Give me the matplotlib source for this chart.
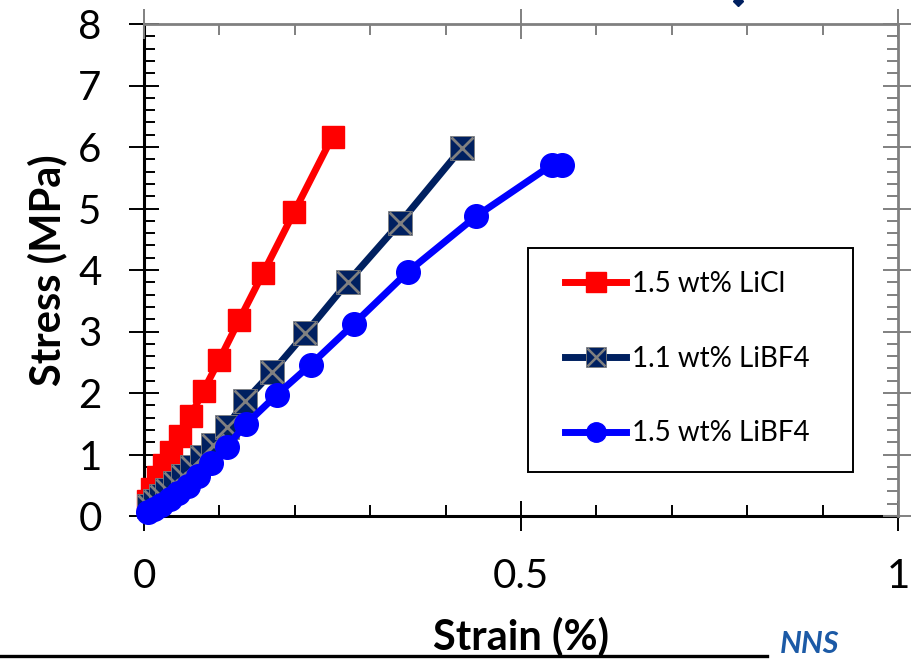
import matplotlib
matplotlib.use('Agg')
import matplotlib.pyplot as plt
from matplotlib.lines import Line2D
from matplotlib.patches import Rectangle
from matplotlib.legend_handler import HandlerTuple
from matplotlib.ticker import MultipleLocator

plt.rcParams['font.family'] = ['Lato', 'DejaVu Sans']

# stress-strain data
strain_licl = [0.005, 0.011, 0.018, 0.026, 0.036, 0.048, 0.062, 0.079, 0.100, 0.126, 0.158, 0.199, 0.250]
stress_licl = [0.25, 0.44, 0.63, 0.83, 1.04, 1.30, 1.63, 2.04, 2.54, 3.18, 3.95, 4.94, 6.17]

strain_libf4_11 = [0.006, 0.014, 0.022, 0.031, 0.041, 0.052, 0.064, 0.077, 0.092, 0.110, 0.134, 0.170, 0.214, 0.270, 0.339, 0.422]
stress_libf4_11 = [0.16, 0.25, 0.33, 0.42, 0.53, 0.65, 0.79, 0.96, 1.16, 1.45, 1.87, 2.34, 2.97, 3.80, 4.76, 5.99]

strain_libf4_15 = [0.005, 0.013, 0.023, 0.034, 0.045, 0.058, 0.072, 0.089, 0.110, 0.135, 0.176, 0.221, 0.278, 0.350, 0.440, 0.541, 0.554]
stress_libf4_15 = [0.07, 0.11, 0.18, 0.27, 0.37, 0.49, 0.65, 0.86, 1.13, 1.49, 1.97, 2.46, 3.12, 3.97, 4.87, 5.71, 5.71]

labels = ['1.5 wt% LiCl', '1.1 wt% LiBF4', '1.5 wt% LiBF4']

RED = '#FF0000'
NAVY = '#002060'
BLUE = '#0000FF'
GREY = '#808080'

W, H = 911, 659
fig = plt.figure(figsize=(W / 100, H / 100), dpi=100)
pos = [144 / W, 1 - 516 / H, (898 - 144) / W, (516 - 24) / H]
ax = fig.add_axes(pos)

ax.plot(strain_licl, stress_licl, color=RED, lw=5, marker='s', ms=16,
        mfc=RED, mec=RED, clip_on=False, zorder=3)
ax.plot(strain_libf4_11, stress_libf4_11, color=NAVY, lw=5, marker='s', ms=17,
        mfc=NAVY, mec=GREY, mew=0.6, clip_on=False, zorder=4)
ax.plot(strain_libf4_11, stress_libf4_11, ls='none', marker='x', ms=16,
        mec=GREY, mew=2, clip_on=False, zorder=4)
ax.plot(strain_libf4_15, stress_libf4_15, color=BLUE, lw=5, marker='o', ms=17,
        mfc=BLUE, mec=BLUE, clip_on=False, zorder=5)

ax.set_xlim(0, 1)
ax.set_ylim(0, 8)
ax.xaxis.set_major_locator(MultipleLocator(0.5))
ax.xaxis.set_minor_locator(MultipleLocator(0.1))
ax.yaxis.set_major_locator(MultipleLocator(1))
ax.yaxis.set_minor_locator(MultipleLocator(0.2))
ax.xaxis.set_major_formatter(plt.FuncFormatter(lambda v, p: '%g' % v))

for s in ['top', 'right']:
    ax.spines[s].set_visible(False)
for s in ['left', 'bottom']:
    ax.spines[s].set_linewidth(2.2)
    ax.spines[s].set_color('black')
ax.tick_params(which='major', direction='inout', length=21, width=1.4, labelsize=29, color='black')
ax.tick_params(which='minor', direction='in', length=8, width=1.4, color='black')
ax.tick_params(axis='x', which='major', pad=20)
ax.tick_params(axis='y', which='major', pad=20)

# grey top/right frame drawn as an overlay axes
ax2 = fig.add_axes(pos, facecolor='none', sharex=ax, sharey=ax)
ax2.xaxis.tick_top()
ax2.yaxis.tick_right()
for s in ['left', 'bottom']:
    ax2.spines[s].set_visible(False)
for s in ['top', 'right']:
    ax2.spines[s].set_linewidth(2)
    ax2.spines[s].set_color(GREY)
ax2.tick_params(which='major', direction='inout', length=21, width=1.4, color=GREY,
                labeltop=False, labelright=False, labelbottom=False, labelleft=False)
ax2.tick_params(which='minor', direction='in', length=8, width=1.4, color=GREY)

fig.text(521 / W, 1 - 636 / H, 'Strain (%)', fontsize=30, fontweight='bold',
         ha='center', va='center')
fig.text(47 / W, 1 - 270 / H, 'Stress (MPa)', fontsize=30, fontweight='bold',
         ha='center', va='center', rotation=90)

# legend with a plain black frame
fig.patches.append(Rectangle((528 / W, 1 - 472 / H), (853 - 528) / W, (472 - 248) / H,
                             transform=fig.transFigure, fill=False, ec='black', lw=1.4, zorder=6))
h_red = Line2D([], [], color=RED, lw=5, marker='s', ms=14, mfc=RED, mec=RED)
h_navy = Line2D([], [], color=NAVY, lw=5, marker='s', ms=14, mfc=NAVY, mec=GREY, mew=0.6)
h_navy_x = Line2D([], [], ls='none', marker='x', ms=13, mec=GREY, mew=1.8)
h_blue = Line2D([], [], color=BLUE, lw=5, marker='o', ms=14, mfc=BLUE, mec=BLUE)
leg = fig.legend([h_red, (h_navy, h_navy_x), h_blue], labels,
                 handler_map={tuple: HandlerTuple(ndivide=1, pad=0)},
                 loc='upper left', bbox_to_anchor=(565 / W, 1 - 271 / H),
                 frameon=False, fontsize=20, borderpad=0, borderaxespad=0,
                 handlelength=2.2, handletextpad=0.2, labelspacing=1.75)

# bits of the slide around the chart
fig.add_artist(Line2D([0, 767 / W], [1 - 656 / H, 1 - 656 / H], transform=fig.transFigure,
                      color='black', lw=2.4))
fig.text(780 / W, 1 - 658 / H, 'NNS', fontsize=22, fontweight='bold', style='italic',
         color='#1C5AA6', ha='left', va='bottom')
fig.add_artist(Line2D([738 / W], [1 - 1 / H], transform=fig.transFigure, marker='D',
                      ms=5, color=NAVY, ls='none'))

fig.savefig('out.png', dpi=100)
